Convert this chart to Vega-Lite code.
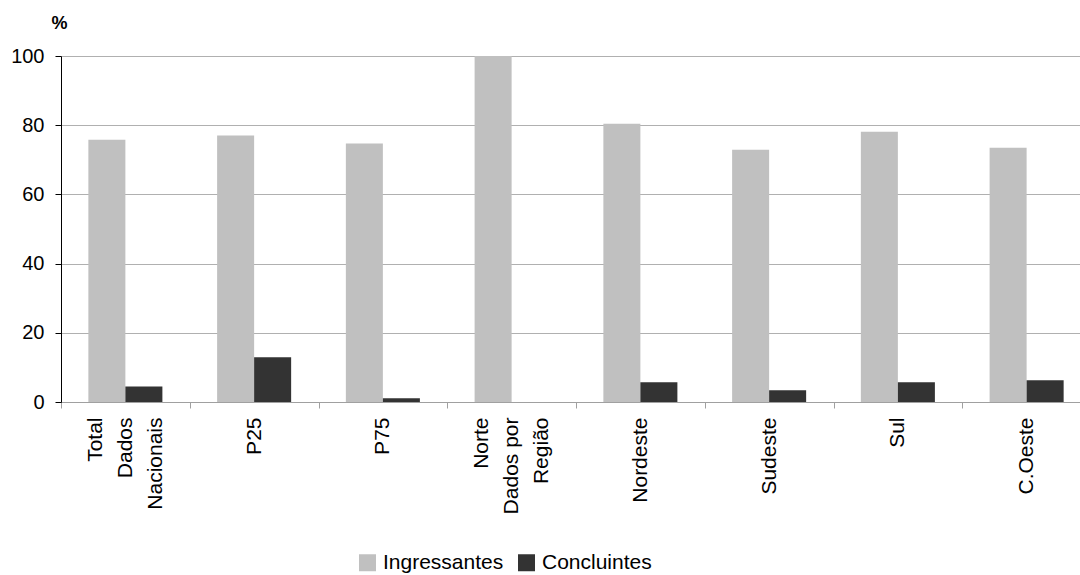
{
  "$schema": "https://vega.github.io/schema/vega-lite/v6.json",
  "width": 1019,
  "height": 346,
  "autosize": {"type": "none"},
  "padding": {"left": 61, "top": 56, "right": 0, "bottom": 173},
  "background": "white",
  "config": {"font": "Liberation Sans", "view": {"stroke": null}},
  "data": {
    "values": [
      {"regiao": "Total|Dados|Nacionais", "serie": "Ingressantes", "valor": 75.8},
      {"regiao": "Total|Dados|Nacionais", "serie": "Concluintes", "valor": 4.5},
      {"regiao": "P25", "serie": "Ingressantes", "valor": 77.0},
      {"regiao": "P25", "serie": "Concluintes", "valor": 12.9},
      {"regiao": "P75", "serie": "Ingressantes", "valor": 74.7},
      {"regiao": "P75", "serie": "Concluintes", "valor": 1.1},
      {"regiao": "Norte|Dados por|Região", "serie": "Ingressantes", "valor": 100},
      {"regiao": "Norte|Dados por|Região", "serie": "Concluintes", "valor": 0},
      {"regiao": "Nordeste", "serie": "Ingressantes", "valor": 80.4},
      {"regiao": "Nordeste", "serie": "Concluintes", "valor": 5.7},
      {"regiao": "Sudeste", "serie": "Ingressantes", "valor": 72.9},
      {"regiao": "Sudeste", "serie": "Concluintes", "valor": 3.4},
      {"regiao": "Sul", "serie": "Ingressantes", "valor": 78.1},
      {"regiao": "Sul", "serie": "Concluintes", "valor": 5.7},
      {"regiao": "C.Oeste", "serie": "Ingressantes", "valor": 73.5},
      {"regiao": "C.Oeste", "serie": "Concluintes", "valor": 6.3}
    ]
  },
  "mark": {"type": "bar"},
  "encoding": {
    "x": {
      "field": "regiao",
      "type": "nominal",
      "sort": null,
      "scale": {"range": [0, 1030], "paddingInner": 0.425, "paddingOuter": 0.2125},
      "axis": {
        "title": null,
        "labelAngle": -90,
        "labelAlign": "right",
        "labelBaseline": "middle",
        "labelFontSize": 21,
        "labelColor": "black",
        "labelPadding": 9,
        "labelLineHeight": 30,
        "labelExpr": "datum.value == 'Total|Dados|Nacionais' ? ['Total\u00a0\u00a0\u00a0\u00a0', 'Dados\u00a0\u00a0\u00a0', 'Nacionais'] : datum.value == 'Norte|Dados por|Região' ? ['Norte\u00a0\u00a0\u00a0\u00a0\u00a0', 'Dados por', 'Região\u00a0\u00a0\u00a0'] : datum.value",
        "labelOffset": {"expr": "64.375 - (length(split(datum.value, '|')) - 1) * 15"},
        "tickOffset": -64.375,
        "tickColor": "#a0a0a0",
        "tickSize": 6,
        "domainColor": "#a0a0a0",
        "grid": false
      }
    },
    "xOffset": {"field": "serie", "type": "nominal", "sort": ["Ingressantes", "Concluintes"]},
    "y": {
      "field": "valor",
      "type": "quantitative",
      "scale": {"domain": [0, 100]},
      "axis": {
        "values": [0, 20, 40, 60, 80, 100],
        "grid": true,
        "gridColor": "#b0b0b0",
        "domainColor": "black",
        "tickColor": "black",
        "tickSize": 6,
        "labelFontSize": 20,
        "labelColor": "black",
        "labelPadding": 11,
        "title": "%",
        "titleAngle": 0,
        "titleFontSize": 18,
        "titleFontWeight": "bold",
        "titleColor": "black",
        "titleX": -2,
        "titleY": -33,
        "titleAlign": "center",
        "titleBaseline": "middle"
      }
    },
    "color": {
      "field": "serie",
      "type": "nominal",
      "sort": ["Ingressantes", "Concluintes"],
      "scale": {"domain": ["Ingressantes", "Concluintes"], "range": ["#c0c0c0", "#333333"]},
      "legend": {
        "title": null,
        "orient": "none",
        "direction": "horizontal",
        "legendX": 296,
        "legendY": 496,
        "symbolType": "square",
        "symbolSize": 289,
        "symbolStrokeWidth": 0,
        "symbolOpacity": 1,
        "labelFontSize": 21,
        "labelColor": "black",
        "labelOffset": 5,
        "columnPadding": 12
      }
    }
  }
}
